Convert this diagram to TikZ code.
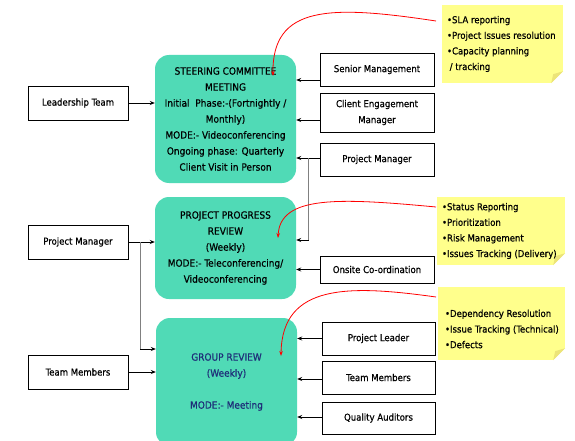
\documentclass[tikz,border=0pt]{standalone}
\usepackage{fontspec}
\setmainfont{DejaVu Sans Condensed}[FakeBold=0.6]
\usetikzlibrary{arrows.meta}
\definecolor{teal1}{RGB}{80,218,182}
\definecolor{notey}{RGB}{255,255,140}
\definecolor{foldy}{RGB}{236,228,120}
\definecolor{navy}{RGB}{30,45,120}
\begin{document}
\begin{tikzpicture}[x=1pt,y=-1pt,
 gbox/.style={fill=teal1, rounded corners=14pt, align=center, font=\fontsize{10}{16}\selectfont, inner sep=0pt},
 wbox/.style={draw, fill=white, align=center, font=\fontsize{9.5}{16}\selectfont, inner sep=0pt, line width=0.6pt},
 notebg/.style={fill=notey, inner sep=0pt},
 notetext/.style={align=left, font=\fontsize{9.5}{15.6}\selectfont, inner sep=0pt, anchor=west},
 arr/.style={-{Stealth[length=5pt,width=4pt]}, line width=0.7pt},
 gline/.style={gray, line width=0.8pt},
 redarr/.style={red, line width=0.8pt, -{Stealth[length=5pt,width=3.5pt]}}
]
\useasboundingbox (0,0) rectangle (575,441);

% green meeting boxes
\node[gbox, minimum width=141pt, minimum height=128pt] (st) at (225.5,119) {STEERING COMMITTEE\\MEETING\\Initial\ \ Phase:-(Fortnightly /\\Monthly)\\MODE:- Videoconferencing\\Ongoing phase: Quarterly\\Client Visit in Person};
\node[gbox, minimum width=141pt, minimum height=102pt] (pr) at (225.5,248) {PROJECT PROGRESS\\REVIEW\\(Weekly)\\MODE:- Teleconferencing/\\Videoconferencing};
\node[gbox, minimum width=141pt, minimum height=128pt, text=navy] (gr) at (226.5,382) {GROUP REVIEW\\(Weekly)\\[16pt]MODE:- Meeting};

% left boxes
\node[wbox, minimum width=100pt, minimum height=34pt] (lt) at (78,103) {Leadership Team};
\node[wbox, minimum width=100pt, minimum height=34pt] (pml) at (78,242) {Project Manager};
\node[wbox, minimum width=100pt, minimum height=34pt] (tml) at (78,372) {Team Members};

% right boxes
\node[wbox, minimum width=114pt, minimum height=33pt] (sm) at (377,69.5) {Senior Management};
\node[wbox, minimum width=114pt, minimum height=39pt] (ce) at (377,112.5) {Client Engagement\\Manager};
\node[wbox, minimum width=114pt, minimum height=33pt] (pmr) at (377,159.5) {Project Manager};
\node[wbox, minimum width=114pt, minimum height=27pt] (oc) at (377,269.5) {Onsite Co-ordination};
\node[wbox, minimum width=113pt, minimum height=33pt] (pl) at (378.5,338.5) {Project Leader};
\node[wbox, minimum width=113pt, minimum height=33pt] (tmr) at (378.5,377.5) {Team Members};
\node[wbox, minimum width=113pt, minimum height=32pt] (qa) at (378.5,418) {Quality Auditors};

% sticky notes
\node[notebg, minimum width=121pt, minimum height=78pt] (n1) at (502.5,44) {};
\node[notebg, minimum width=128pt, minimum height=68pt] (n2) at (501,231) {};
\node[notebg, minimum width=127pt, minimum height=73pt] (n3) at (501.5,323.5) {};
\foreach \n in {n1,n2,n3}{
  \fill[white] (\n.south east) -- ++(-12,0) -- ++(12,-12) -- cycle;
  \fill[foldy] ([xshift=-12pt]\n.south east) -- ([yshift=12pt]\n.south east) -- ([xshift=-10pt,yshift=9pt]\n.south east) -- cycle;
}
\node[notetext] (t1) at ([xshift=5pt,yshift=0pt]n1.west) {•SLA reporting\\•Project Issues resolution\\•Capacity planning\\\ / tracking};
\node[notetext] (t2) at ([xshift=5pt]n2.west) {•Status Reporting\\•Prioritization\\•Risk Management\\•Issues Tracking (Delivery)};
\node[notetext] (t3) at ([xshift=7pt,yshift=-5.5pt]n3.west) {•Dependency Resolution\\•Issue Tracking (Technical)\\•Defects};

% left arrows
\draw[arr] (lt.east) -- (lt.east -| st.west);
\draw[arr] (pml.east) -- (pml.east -| pr.west);
\coordinate (k1) at ([xshift=12pt]pml.east);
\coordinate (k2) at ([yshift=33pt]gr.west);
\draw[gline] (k1) -- (k1 |- k2);
\draw[arr] (k1 |- k2) -- (k2);
\draw[arr] (tml.east) -- (tml.east -| gr.west);

% right arrows
\draw[arr] ([yshift=-10.5pt]sm.west) -- ([yshift=-10.5pt]sm.west -| st.east);
\draw[arr] ([yshift=-7.5pt]ce.west) -- ([yshift=-7.5pt]ce.west -| st.east);
\draw[arr] ([yshift=1.5pt]pmr.west) -- ([yshift=1.5pt]pmr.west -| st.east);
\coordinate (j1) at ([xshift=-11pt,yshift=1.5pt]pmr.west);
\coordinate (j2) at ([yshift=8pt]pr.east);
\draw[gline] (j1) -- (j1 |- j2);
\draw[arr] (j1 |- j2) -- (j2);
\draw[arr] (oc.west) -- (oc.west -| pr.east);
\draw[arr] (pl.west) -- (pl.west -| gr.east);
\draw[arr] ([yshift=-1.5pt]tmr.west) -- ([yshift=-1.5pt]tmr.west -| gr.east);
\draw[arr] ([yshift=1pt]qa.west) -- ([yshift=1pt]qa.west -| gr.east);

% red callout curves
\coordinate (r1s) at (436,21);
\coordinate (r1e) at (273,76);
\coordinate (r2s) at (436,207);
\coordinate (r2e) at (278,238);
\coordinate (r3s) at (436,297);
\coordinate (r3e) at (281,356);
\draw[redarr] (r1s) .. controls (330,5) and (272,5) .. (r1e);
\draw[redarr] (r2s) .. controls (340,198) and (280,195) .. (r2e);
\draw[redarr] (r3s) .. controls (350,285) and (282,283) .. (r3e);
\end{tikzpicture}
\end{document}
